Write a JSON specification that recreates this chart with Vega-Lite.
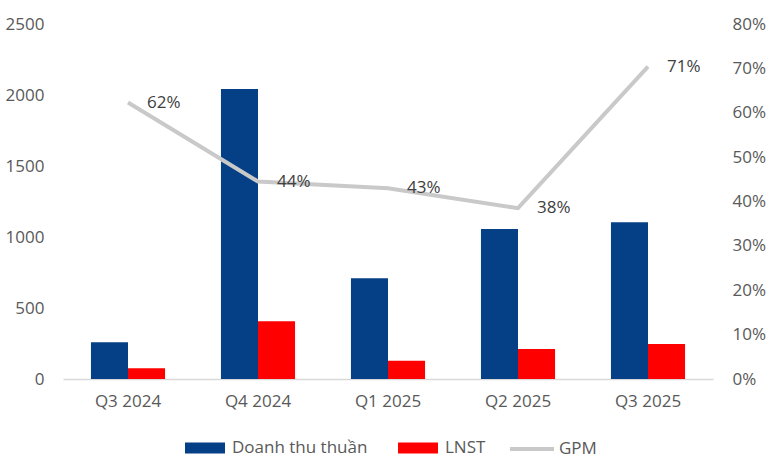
{
  "$schema": "https://vega.github.io/schema/vega-lite/v6.json",
  "width": 650,
  "height": 355,
  "padding": {"left": 5, "top": 15, "right": 5, "bottom": 5},
  "background": "white",
  "config": {
    "view": {"stroke": null},
    "font": "Open Sans",
    "axis": {"labelFont": "Open Sans", "labelFontSize": 17, "labelColor": "#595959", "grid": false, "ticks": false, "title": null},
    "legend": {"labelFont": "Open Sans", "labelFontSize": 17, "labelColor": "#595959", "title": null}
  },
  "datasets": {
    "bars": [
      {"q": "Q3 2024", "series": "Doanh thu thuần", "value": 258},
      {"q": "Q3 2024", "series": "LNST", "value": 75},
      {"q": "Q4 2024", "series": "Doanh thu thuần", "value": 2042},
      {"q": "Q4 2024", "series": "LNST", "value": 406},
      {"q": "Q1 2025", "series": "Doanh thu thuần", "value": 709},
      {"q": "Q1 2025", "series": "LNST", "value": 129},
      {"q": "Q2 2025", "series": "Doanh thu thuần", "value": 1056},
      {"q": "Q2 2025", "series": "LNST", "value": 211},
      {"q": "Q3 2025", "series": "Doanh thu thuần", "value": 1103},
      {"q": "Q3 2025", "series": "LNST", "value": 246}
    ],
    "gpm": [
      {"q": "Q3 2024", "gpm": 0.623, "label": "62%"},
      {"q": "Q4 2024", "gpm": 0.445, "label": "44%"},
      {"q": "Q1 2025", "gpm": 0.430, "label": "43%"},
      {"q": "Q2 2025", "gpm": 0.385, "label": "38%"},
      {"q": "Q3 2025", "gpm": 0.704, "label": "71%"}
    ]
  },
  "encoding": {
    "x": {
      "field": "q", "type": "nominal", "sort": null,
      "scale": {"paddingInner": 0.43, "paddingOuter": 0.215},
      "axis": {"labelAngle": 0, "domain": true, "domainColor": "#d9d9d9", "domainWidth": 1.5, "labelPadding": 14}
    }
  },
  "layer": [
    {
      "data": {"name": "bars"},
      "mark": {"type": "bar"},
      "encoding": {
        "xOffset": {"field": "series", "type": "nominal", "scale": {"paddingInner": 0, "paddingOuter": 0}},
        "y": {
          "field": "value", "type": "quantitative",
          "scale": {"domain": [0, 2500]},
          "axis": {"orient": "left", "format": "d", "values": [0, 500, 1000, 1500, 2000, 2500], "domain": false, "labelPadding": 19}
        },
        "color": {
          "field": "series", "type": "nominal",
          "scale": {"domain": ["Doanh thu thuần", "LNST"], "range": ["#053F85", "#FF0000"]},
          "legend": {
            "orient": "none", "legendX": 122, "legendY": 404, "direction": "horizontal",
            "symbolType": "M-1,-0.275H1V0.275H-1Z", "symbolSize": 1600, "symbolStrokeWidth": 0,
            "labelOffset": 7, "columnPadding": 30
          }
        }
      }
    },
    {
      "data": {"name": "gpm"},
      "encoding": {
        "y": {"field": "gpm", "type": "quantitative", "scale": {"domain": [0, 0.8]},
          "axis": {"orient": "right", "format": ".0%", "values": [0, 0.1, 0.2, 0.3, 0.4, 0.5, 0.6, 0.7, 0.8], "domain": false, "labelPadding": 19}}
      },
      "layer": [
        {
          "mark": {"type": "line", "strokeWidth": 4},
          "encoding": {
            "stroke": {"datum": "GPM", "scale": {"range": ["#C9C9C9"]},
              "legend": {"orient": "none", "legendX": 445, "legendY": 401, "symbolType": "stroke", "symbolSize": 1936, "symbolStrokeWidth": 4, "labelOffset": 3}}
          }
        },
        {
          "mark": {"type": "text", "align": "left", "baseline": "middle", "dx": 19, "fontSize": 17, "color": "#404040", "font": "Open Sans"},
          "encoding": {"text": {"field": "label"}}
        }
      ]
    }
  ],
  "resolve": {"scale": {"y": "independent"}}
}
